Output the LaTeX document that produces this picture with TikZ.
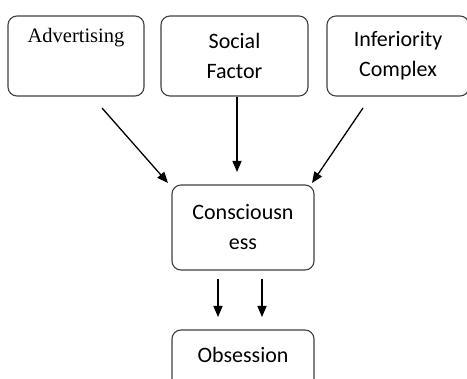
\documentclass[tikz,border=0pt]{standalone}
\usepackage{fontspec}
\setmainfont{Carlito}
\newfontfamily\serifface{Liberation Serif}
\usetikzlibrary{arrows.meta}
\begin{document}
\begin{tikzpicture}[x=1pt,y=-1pt,
  box/.style={draw=black!75, line width=1.1pt, rounded corners=9pt, inner sep=0pt},
  txt/.style={font=\fontsize{22}{30}\selectfont, align=center, inner sep=0pt},
  arr/.style={draw=black, line width=1.3pt, -{Triangle[length=11pt,width=9pt]}}]
\useasboundingbox (0,0) rectangle (467,379);
\clip (0,0) rectangle (467,379);
% boxes
\node[box, minimum width=136, minimum height=80] (adv) at (76,56) {};
\node[txt, font=\serifface\fontsize{20.5}{24}\selectfont] (advt) at (76,38) {Advertising};
\node[box, txt, minimum width=147, minimum height=80] (soc) at (234.5,56) {Social\\Factor};
\node[box, txt, minimum width=142, minimum height=80] (inf) at (398,56) {Inferiority\\Complex};
\node[box, txt, minimum width=142, minimum height=85] (con) at (243,227.5) {Consciousn\\ess};
\node[box, minimum width=142, minimum height=60] (obs) at (243,360) {};
\node[txt] (obst) at (243,355) {Obsession};
% connectors
\coordinate (a1) at (102,108);
\coordinate (a2) at (168,183);
\coordinate (c1) at (363,108);
\coordinate (c2) at (312,183);
\draw[arr] (a1) -- (a2);
\draw[arr] (soc.south -| 237,0) -- (237,172);
\draw[arr] (c1) -- (c2);
\draw[arr] ([xshift=-25]con.south) ++(0,8) -- (218,317);
\draw[arr] ([xshift=19]con.south) ++(0,8) -- (262,317);
\end{tikzpicture}
\end{document}
